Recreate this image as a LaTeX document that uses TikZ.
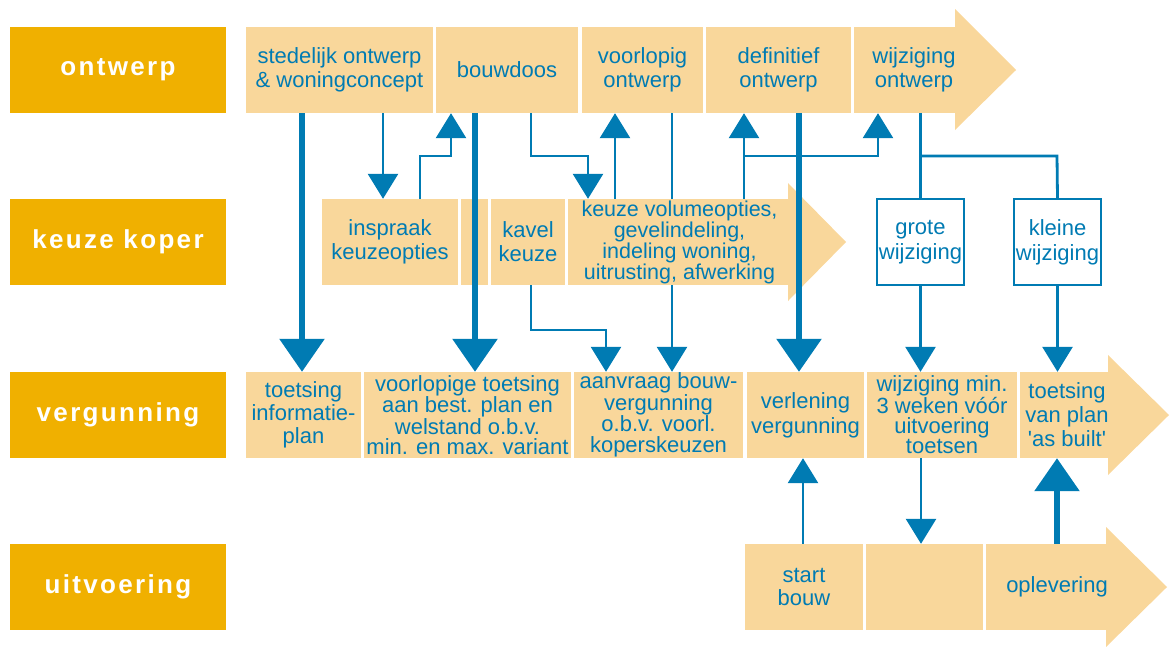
\documentclass[tikz,border=0pt]{standalone}
\usepackage{fontspec}
\setmainfont{Liberation Sans}
\newfontfamily\phasefont[UprightFont={* Bold}, LetterSpace=9]{Liberation Sans}
\usetikzlibrary{arrows.meta}

\definecolor{peach}{RGB}{249,215,155}
\definecolor{gold}{RGB}{240,176,0}
\definecolor{flowblue}{RGB}{0,123,179}

\begin{document}
\begin{tikzpicture}[x=1pt,y=-1pt,
  phase/.style={fill=gold, text=white, minimum width=216pt, minimum height=86pt,
    inner sep=0pt, font=\phasefont\fontsize{26}{28}\selectfont},
  cell/.style={fill=peach, inner sep=0pt, minimum height=86pt, text=flowblue,
    align=center, font=\fontsize{22}{24}\selectfont},
  choice/.style={fill=white, draw=flowblue, line width=1.3pt, inner sep=0pt,
    minimum width=87pt, minimum height=86pt, text=flowblue, align=center,
    font=\fontsize{22}{25}\selectfont},
  label/.style={inner sep=0pt, text=flowblue, align=center},
  link/.style={draw=flowblue, line width=2.8pt},
  linkarrow/.style={link, -{Triangle[width=30pt,length=25pt]}},
  mainarrow/.style={draw=flowblue, line width=6pt, -{Triangle[width=44pt,length=33pt]}},
]
\useasboundingbox (0,0) rectangle (1172,646);

% phase labels
\node[phase] (pO) at (118,70)  {ontwerp};
\node[phase] (pK) at (118,242) {keuze koper};
\node[phase] (pV) at (118,415) {vergunning};
\node[phase] (pU) at (118,587) {uitvoering};

% ontwerp row
\node[cell, minimum width=187pt] (stO)   at (339.5,70) {stedelijk ontwerp\\\& woningconcept};
\node[cell, minimum width=142pt] (bouw)  at (507,70)   {bouwdoos};
\node[cell, minimum width=121pt] (voorO) at (642.5,70) {voorlopig\\ontwerp};
\node[cell, minimum width=145pt] (defO)  at (778.5,70) {definitief\\ontwerp};
\node[cell, minimum width=101pt] (wijzO) at (904.5,70) {};
\fill[peach] (wijzO.north east) -- (955,9) -- (1016,70) -- (955,130) -- (wijzO.south east) -- cycle;
\node[label, font=\fontsize{22}{24}\selectfont] (wijzOt) at (914,70) {wijziging\\ontwerp};

% vergunning row
\node[cell, minimum width=115pt, font=\fontsize{22}{23}\selectfont] (toetsI) at (303.5,415) {toetsing\\informatie-\\plan};
\node[cell, minimum width=207pt, font=\fontsize{22}{20.5}\selectfont] (voorT) at (467.5,415) {voorlopige toetsing\\aan best. plan en\\welstand o.b.v.\\min. en max. variant};
\node[cell, minimum width=169pt, font=\fontsize{22}{20.5}\selectfont] (aanv) at (658.5,415) {aanvraag bouw-\\vergunning\\o.b.v. voorl.\\koperskeuzen};
\node[cell, minimum width=117pt, font=\fontsize{22}{25}\selectfont] (verl) at (805.5,415) {verlening\\vergunning};
\node[cell, minimum width=150pt, font=\fontsize{22}{20}\selectfont] (wijzM) at (942,415) {wijziging min.\\3 weken vóór\\uitvoering\\toetsen};
\node[cell, minimum width=88pt] (toetsP) at (1064,415) {};
\fill[peach] (toetsP.north east) -- (1108,355) -- (1169,415) -- (1108,475) -- (toetsP.south east) -- cycle;
\node[label, font=\fontsize{22}{24}\selectfont] (toetsPt) at (1067,415)
  {toetsing\\van plan\\\textquotesingle as built\textquotesingle};

% uitvoering row
\node[cell, minimum width=118pt, font=\fontsize{22}{23}\selectfont] (start) at (804,587) {start\\bouw};
\node[cell, minimum width=117pt] (mid) at (924.5,587) {};
\node[cell, minimum width=120pt] (opl) at (1046,587) {};
\fill[peach] (opl.north east) -- (1106,527) -- (1167,587) -- (1106,647) -- (opl.south east) -- cycle;
\node[label, font=\fontsize{22}{24}\selectfont] (oplt) at (1057,587) {oplevering};

% this link runs behind the keuze koper row
\draw[linkarrow] (voorO.south -| 672,0) -- (aanv.north -| 672,0);

% keuze koper row
\node[cell, minimum width=136pt] (insp)  at (390,242)   {inspraak\\keuzeopties};
\node[cell, minimum width=27pt]  (blank) at (474.5,242) {};
\node[cell, minimum width=74pt]  (kavel) at (528,242)   {kavel\\keuze};
\node[cell, minimum width=220pt] (keuze) at (678,242)   {};
\fill[peach] (keuze.north east) -- (788,183) -- (846,242) -- (788,301) -- (keuze.south east) -- cycle;
\node[label, font=\fontsize{21.5}{20}\selectfont] (keuzet) at (679.5,242)
  {keuze volumeopties,\\gevelindeling,\\indeling woning,\\uitrusting, afwerking};
\node[choice] (grote)  at (920.5,242)  {grote\\wijziging};
\node[choice] (kleine) at (1057.5,242) {kleine\\wijziging};

% junction points of the branching links
\coordinate (jA1) at (420,156);
\coordinate (jA2) at (451,156);
\coordinate (jB1) at (531,156);
\coordinate (jB2) at (588,156);
\coordinate (jC1) at (744,156);
\coordinate (jC2) at (878,156);
\coordinate (jD1) at (921,156);
\coordinate (jD2) at (1057,156);
\coordinate (jE1) at (531,330);
\coordinate (jE2) at (606,330);

% main (thick) links
\draw[mainarrow] (stO.south -| 302,0) -- (toetsI.north -| 302,0);
\draw[mainarrow] (bouw.south -| 475,0) -- (voorT.north -| 475,0);
\draw[mainarrow] (defO.south -| 799,0) -- (verl.north -| 799,0);
\draw[mainarrow] (opl.north -| 1057,0) -- (toetsP.south -| 1057,0);

% thin links
\draw[linkarrow] (stO.south -| 383,0) -- (insp.north -| 383,0);
\draw[linkarrow] (insp.north -| jA1) -- (jA1) -- (jA2) -- (bouw.south -| jA2);
\draw[linkarrow] (bouw.south -| jB1) -- (jB1) -- (jB2) -- (keuze.north -| jB2);
\draw[linkarrow] (keuze.north -| 615,0) -- (voorO.south -| 615,0);
\draw[linkarrow] (keuze.north -| jC1) -- (defO.south -| jC1);
\draw[linkarrow] (jC1) -- (jC2) -- (wijzO.south -| jC2);
\draw[link] (wijzO.south -| grote.north) -- (grote.north);
\draw[link] (jD1) -- (jD2) -- (kleine.north);
\draw[linkarrow] (grote.south) -- (wijzM.north -| grote.south);
\draw[linkarrow] (kleine.south) -- (toetsP.north -| kleine.south);
\draw[linkarrow] (kavel.south -| jE1) -- (jE1) -- (jE2) -- (aanv.north -| jE2);
\draw[linkarrow] (start.north -| 803,0) -- (verl.south -| 803,0);
\draw[linkarrow] (wijzM.south -| 921,0) -- (mid.north -| 921,0);
\end{tikzpicture}
\end{document}
